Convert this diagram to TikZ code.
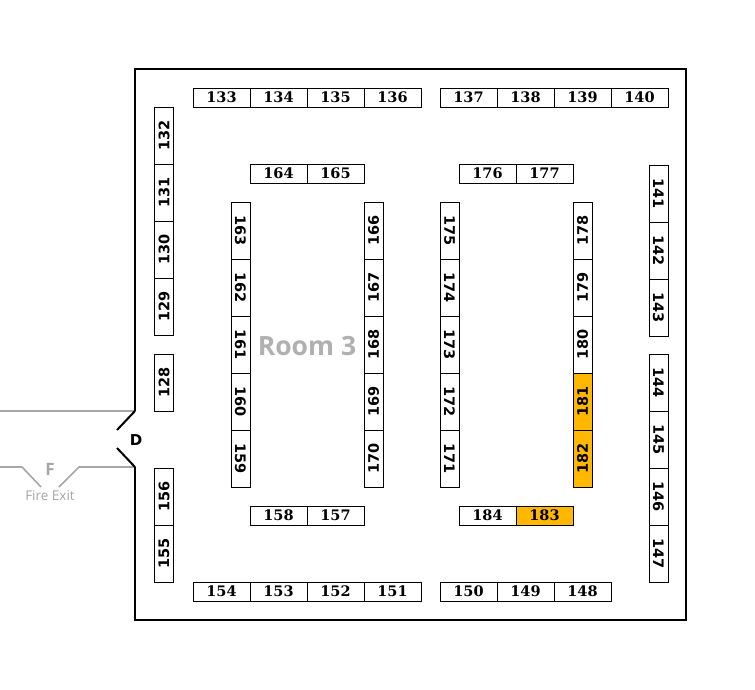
\documentclass[tikz,border=0pt]{standalone}
\usepackage{fontspec}
\usetikzlibrary{positioning}
\newfontfamily\numserif{DejaVu Serif}
\newfontfamily\numsans{DejaVu Sans}
\newfontfamily\labelsans{Open Sans}
\definecolor{booked}{RGB}{255,183,0}
\definecolor{exitgray}{RGB}{166,166,166}
\definecolor{roomgray}{RGB}{176,176,176}

\begin{document}
\begin{tikzpicture}[x=1pt,y=-1pt,node distance=57pt,on grid,
  booth/.style={draw,line width=0.8pt,inner sep=0pt,minimum width=57pt,minimum height=19pt},
  hbooth/.style={booth,font=\numserif\bfseries\fontsize{14.5}{14.5}\selectfont},
  upbooth/.style={booth,rotate=90,font=\numsans\bfseries\fontsize{14.5}{14.5}\selectfont},
  downbooth/.style={booth,rotate=-90,font=\numsans\bfseries\fontsize{14.5}{14.5}\selectfont},
  taken/.style={fill=booked},
  wall/.style={line width=2pt},
  exitline/.style={exitgray,line width=1.6pt}]
\useasboundingbox (0,0) rectangle (755,689);

% walls and door
\coordinate (doortop) at (135,411);
\coordinate (doorbot) at (135,467);
\draw[exitline] (0,411) -- (doortop);
\draw[exitline] (0,467) -- (22,467) -- (41,487);
\draw[exitline] (59,487) -- (79,467) -- (doorbot);
\draw[wall] (doortop) -- (135,69) -- (686,69) -- (686,620) -- (135,620) -- (doorbot);
\draw[wall] (doortop) -- (117,430);
\draw[wall] (doorbot) -- (117,448);
\node[font=\numsans\bfseries\fontsize{15}{15}\selectfont] (door) at (136,440) {D};
\node[font=\labelsans\bfseries\fontsize{17}{17}\selectfont,text=exitgray] (exitF) at (50,469) {F};
\node[font=\labelsans\fontsize{13.5}{13.5}\selectfont,text=exitgray] (exitname) at (50,496) {Fire Exit};
\node[font=\labelsans\bfseries\fontsize{26.5}{26.5}\selectfont,text=roomgray] (room) at (307,346) {Room 3};

% top row
\node[hbooth] (b133) at (221.5,97.5) {133};
\node[hbooth] (b134) [right=of b133] {134};
\node[hbooth] (b135) [right=of b134] {135};
\node[hbooth] (b136) [right=of b135] {136};
\node[hbooth] (b137) at (468.5,97.5) {137};
\node[hbooth] (b138) [right=of b137] {138};
\node[hbooth] (b139) [right=of b138] {139};
\node[hbooth] (b140) [right=of b139] {140};

% bottom row
\node[hbooth] (b154) at (221.5,591.5) {154};
\node[hbooth] (b153) [right=of b154] {153};
\node[hbooth] (b152) [right=of b153] {152};
\node[hbooth] (b151) [right=of b152] {151};
\node[hbooth] (b150) at (468.5,591.5) {150};
\node[hbooth] (b149) [right=of b150] {149};
\node[hbooth] (b148) [right=of b149] {148};

% left wall
\node[upbooth] (b132) at (164,135.5) {132};
\node[upbooth] (b131) [below=of b132] {131};
\node[upbooth] (b130) [below=of b131] {130};
\node[upbooth] (b129) [below=of b130] {129};
\node[upbooth] (b128) at (164,382.5) {128};
\node[upbooth] (b156) at (164,496.5) {156};
\node[upbooth] (b155) [below=of b156] {155};

% right wall
\node[downbooth] (b141) at (658.5,193.5) {141};
\node[downbooth] (b142) [below=of b141] {142};
\node[downbooth] (b143) [below=of b142] {143};
\node[downbooth] (b144) at (658.5,382.5) {144};
\node[downbooth] (b145) [below=of b144] {145};
\node[downbooth] (b146) [below=of b145] {146};
\node[downbooth] (b147) [below=of b146] {147};

% left island
\node[hbooth] (b164) at (278.5,173.5) {164};
\node[hbooth] (b165) [right=of b164] {165};
\node[downbooth] (b163) at (240.5,230.5) {163};
\node[downbooth] (b162) [below=of b163] {162};
\node[downbooth] (b161) [below=of b162] {161};
\node[downbooth] (b160) [below=of b161] {160};
\node[downbooth] (b159) [below=of b160] {159};
\node[upbooth] (b166) at (373.5,230.5) {166};
\node[upbooth] (b167) [below=of b166] {167};
\node[upbooth] (b168) [below=of b167] {168};
\node[upbooth] (b169) [below=of b168] {169};
\node[upbooth] (b170) [below=of b169] {170};
\node[hbooth] (b158) at (278.5,515.5) {158};
\node[hbooth] (b157) [right=of b158] {157};

% right island
\node[hbooth] (b176) at (487.5,173.5) {176};
\node[hbooth] (b177) [right=of b176] {177};
\node[downbooth] (b175) at (449.5,230.5) {175};
\node[downbooth] (b174) [below=of b175] {174};
\node[downbooth] (b173) [below=of b174] {173};
\node[downbooth] (b172) [below=of b173] {172};
\node[downbooth] (b171) [below=of b172] {171};
\node[upbooth] (b178) at (582.5,230.5) {178};
\node[upbooth] (b179) [below=of b178] {179};
\node[upbooth] (b180) [below=of b179] {180};
\node[upbooth,taken] (b181) [below=of b180] {181};
\node[upbooth,taken] (b182) [below=of b181] {182};
\node[hbooth] (b184) at (487.5,515.5) {184};
\node[hbooth,taken] (b183) [right=of b184] {183};
\end{tikzpicture}
\end{document}
